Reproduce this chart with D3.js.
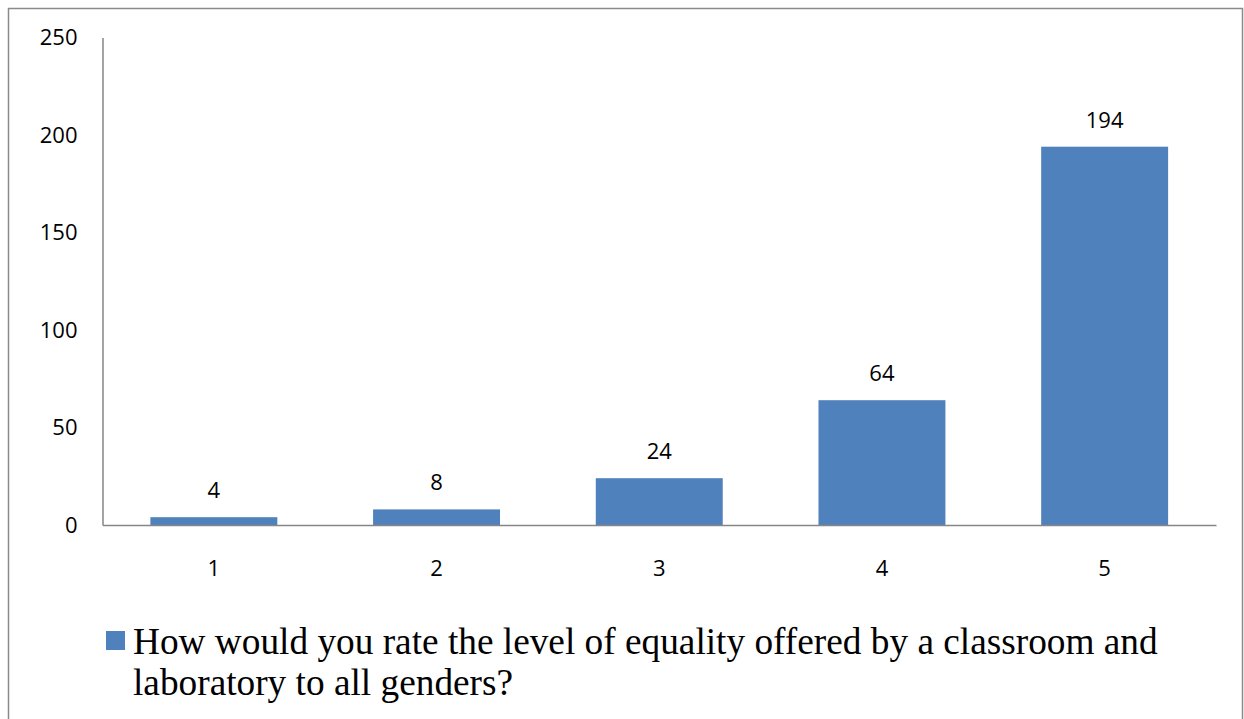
<!DOCTYPE html>
<html><head><meta charset="utf-8">
<script src="https://cdn.jsdelivr.net/npm/d3@7"></script>
<style>html,body{margin:0;padding:0;background:#fff;}svg{display:block;}</style>
</head><body>
<script>
const categories = ["1", "2", "3", "4", "5"];
const values = [4, 8, 24, 64, 194];
const yTicks = [0, 50, 100, 150, 200, 250];
const seriesName = "How would you rate the level of equality offered by a classroom and";
const seriesName2 = "laboratory to all genders?";

const W = 1244, H = 719;
const svg = d3.select("body").append("svg").attr("width", W).attr("height", H);

svg.append("rect").attr("x", 8.5).attr("y", 8.5).attr("width", 1234).attr("height", 730)
  .attr("fill", "none").attr("stroke", "#8a8a8a").attr("stroke-width", 1.5);

const x = d3.scaleBand().domain(categories).range([102.5, 1216]).paddingInner(0.43).paddingOuter(0.215);
const y = d3.scaleLinear().domain([0, 250]).range([525, 37.5]);

const font = "'Open Sans', sans-serif";

// bars
svg.selectAll("rect.bar").data(values).enter().append("rect").attr("class", "bar")
  .attr("x", (d, i) => x(categories[i]))
  .attr("y", d => y(d))
  .attr("width", x.bandwidth())
  .attr("height", d => y(0) - y(d))
  .attr("fill", "#4F81BD");

// data labels
svg.selectAll("text.lbl").data(values).enter().append("text").attr("class", "lbl")
  .attr("x", (d, i) => x(categories[i]) + x.bandwidth() / 2)
  .attr("y", d => y(d) - 19)
  .attr("text-anchor", "middle")
  .attr("font-family", font).attr("font-size", 22).attr("fill", "#000")
  .text(d => d);

// y axis
const yAxis = d3.axisLeft(y).tickValues(yTicks).tickSize(0).tickPadding(25);
const gy = svg.append("g").attr("transform", "translate(102.5,0)").call(yAxis);
gy.select(".domain").attr("stroke", "#868686").attr("stroke-width", 1.5);
gy.selectAll("text").attr("font-family", font).attr("font-size", 22).attr("fill", "#000");

// x axis
const xAxis = d3.axisBottom(x).tickSize(0).tickPadding(35);
const gx = svg.append("g").attr("transform", "translate(0,525)").call(xAxis);
gx.select(".domain").attr("stroke", "#868686").attr("stroke-width", 1.5);
gx.selectAll("text").attr("font-family", font).attr("font-size", 22).attr("fill", "#000");

// legend
svg.append("rect").attr("x", 106).attr("y", 631).attr("width", 19).attr("height", 19).attr("fill", "#4F81BD");
const lg = svg.append("text").attr("font-family", "'Liberation Serif', 'Times New Roman', serif")
  .attr("font-size", 37.3).attr("fill", "#000");
lg.append("tspan").attr("x", 133).attr("y", 654).text(seriesName);
lg.append("tspan").attr("x", 133).attr("y", 695).text(seriesName2);
</script>
</body></html>
